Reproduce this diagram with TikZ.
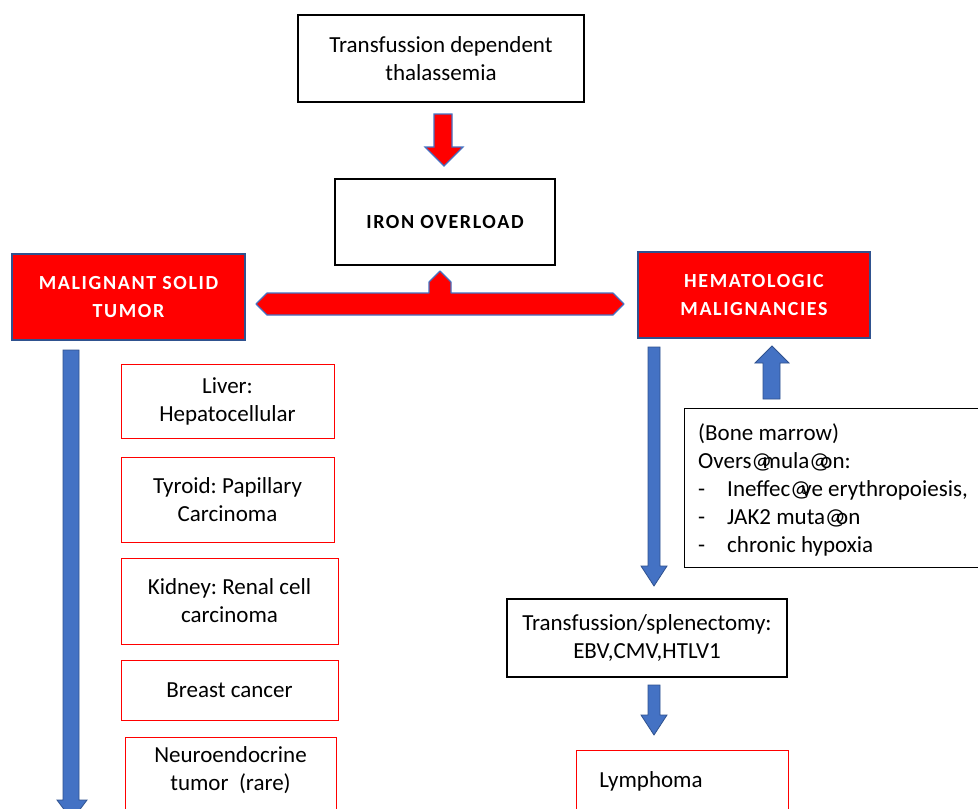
\documentclass[tikz,border=0pt]{standalone}
\usepackage{fontspec}
\setmainfont{Carlito}
\frenchspacing
\definecolor{bred}{HTML}{FF0000}
\definecolor{afill}{HTML}{4472C4}
\definecolor{aline}{HTML}{2F528F}
\newcommand\tiat{\makebox[11pt][l]{@}}
\begin{document}
\begin{tikzpicture}[x=1pt,y=-1pt,
  plain/.style={draw=black,line width=1.3pt,fill=white,align=center,inner sep=0pt,font=\fontsize{23}{28}\selectfont},
  redbox/.style={draw=aline,line width=1.5pt,fill=bred,text=white,align=center,inner sep=0pt,font=\fontsize{20}{28}\selectfont\bfseries\addfontfeature{LetterSpace=8}},
  listbox/.style={draw=bred,line width=1pt,fill=white,align=center,inner sep=0pt,font=\fontsize{23}{28}\selectfont},
  bluearrow/.style={fill=afill,draw=aline,line width=0.8pt},
  redarrow/.style={fill=bred,draw=afill,line width=1.2pt}]
\useasboundingbox (0,0) rectangle (978,809);
\clip (0,0) rectangle (978,809);
\fill[white] (0,0) rectangle (978,809);

% top box
\node[plain,minimum width=286pt,minimum height=87pt] (tdt) at (441,58.5) {Transfussion dependent\\thalassemia};
% red arrow down
\draw[redarrow] (434,114) -- (452,114) -- (452,147) -- (463,147) -- (444,166) -- (425,147) -- (434,147) -- cycle;
% iron overload
\node[plain,minimum width=220pt,minimum height=86pt,font=\fontsize{20}{28}\selectfont\bfseries\addfontfeature{LetterSpace=8}] (iron) at (445,222) {IRON OVERLOAD};
% double arrow with notch
\draw[redarrow,line join=round] (256,304) -- (267,293) -- (429,293) -- (429,282) -- (440,271) -- (451,282) -- (451,293) -- (613,293) -- (624,304) -- (613,315) -- (267,315) -- cycle;

% red boxes
\node[redbox,minimum width=233pt,minimum height=86pt] (mst) at (128.5,297) {MALIGNANT SOLID\\TUMOR};
\node[redbox,minimum width=232pt,minimum height=86pt] (hem) at (754,295) {HEMATOLOGIC\\MALIGNANCIES};

% left long arrow
\draw[bluearrow] (63,350) -- (79,350) -- (79,800) -- (87,800) -- (72,820) -- (57,800) -- (63,800) -- cycle;

% list boxes
\node[listbox,minimum width=213pt,minimum height=74pt] (liver) at (227.5,401) {Liver:\\Hepatocellular};
\node[listbox,minimum width=213pt,minimum height=85pt] (tyr) at (227.5,499.5) {Tyroid: Papillary\\Carcinoma};
\node[listbox,minimum width=217pt,minimum height=86pt] (kid) at (229.5,601) {Kidney: Renal cell\\carcinoma};
\node[listbox,minimum width=217pt,minimum height=60pt] (breast) at (229.5,690) {Breast cancer};
\node[listbox,minimum width=211pt,minimum height=86pt,anchor=north] (neuro) at (230.5,737) {};
\node[font=\fontsize{23}{28}\selectfont,align=center,anchor=north,inner sep=0pt] (neurot) at (230.5,746) {Neuroendocrine\\tumor~ (rare)};

% right down arrow
\draw[bluearrow] (648,347) -- (660,347) -- (660,566) -- (667,566) -- (654,586) -- (641,566) -- (648,566) -- cycle;
% up arrow
\draw[bluearrow] (763,399) -- (763,363) -- (755,363) -- (772,346) -- (789,363) -- (780,363) -- (780,399) -- cycle;

% bone marrow box
\node[draw=black,line width=1.3pt,fill=white,minimum width=310pt,minimum height=159pt,anchor=north west,inner sep=0pt] (bm) at (684,408) {};
\node[anchor=north west,align=left,inner sep=0pt,font=\fontsize{23}{28}\selectfont] (bmt) at (698,423) {(Bone marrow)\\Overs\tiat mula\tiat on:\\-\hspace{22pt}Ineffec\tiat ve erythropoiesis,\\-\hspace{22pt}JAK2 muta\tiat on\\-\hspace{22pt}chronic hypoxia};

% transfusion box
\node[plain,minimum width=280pt,minimum height=78pt] (trans) at (647,638) {Transfussion/splenectomy:\\EBV,CMV,HTLV1};
% small down arrow
\draw[bluearrow] (648,685) -- (660,685) -- (660,715) -- (667,715) -- (654,735) -- (641,715) -- (648,715) -- cycle;
% lymphoma
\node[listbox,minimum width=212pt,minimum height=70pt,anchor=north] (lym) at (682,750) {};
\node[font=\fontsize{23}{28}\selectfont,inner sep=0pt] (lymt) at (651,781) {Lymphoma};
\end{tikzpicture}
\end{document}
